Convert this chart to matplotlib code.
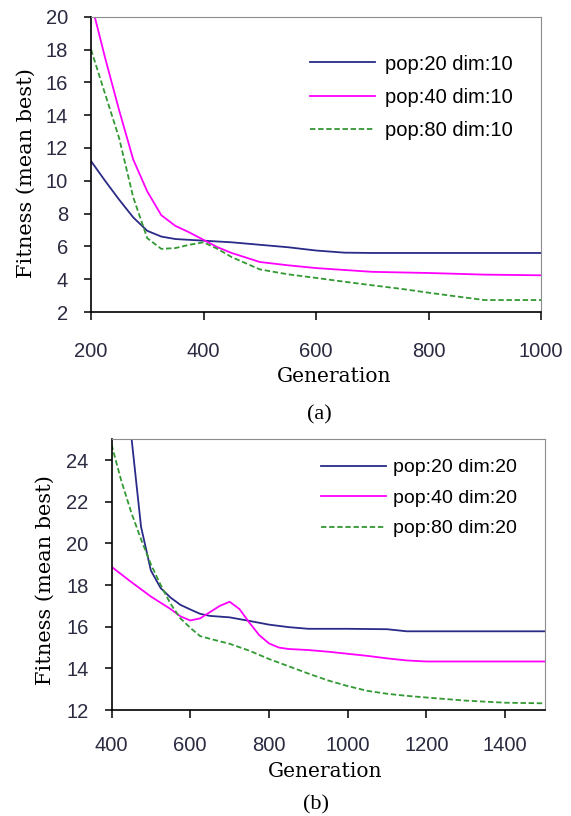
import matplotlib
matplotlib.use("Agg")
import matplotlib.pyplot as plt

# ----------------- Data -----------------
# (a) dim:10
gen_a_blue = [200, 225, 250, 275, 300, 325, 350, 375, 400, 450, 500, 550, 600, 650, 700, 800, 900, 1000]
fit_a_blue = [11.2, 10.0, 8.85, 7.77, 6.95, 6.6, 6.45, 6.4, 6.35, 6.25, 6.1, 5.95, 5.75, 5.62, 5.6, 5.6, 5.6, 5.6]

gen_a_mag = [200, 225, 250, 275, 300, 325, 350, 375, 400, 425, 450, 500, 550, 600, 700, 800, 900, 1000]
fit_a_mag = [20.9, 17.5, 14.3, 11.3, 9.35, 7.9, 7.25, 6.85, 6.4, 5.95, 5.6, 5.05, 4.85, 4.68, 4.45, 4.38, 4.28, 4.24]

gen_a_grn = [200, 225, 250, 275, 300, 325, 350, 375, 400, 425, 450, 500, 550, 600, 650, 700, 750, 800, 850, 900, 1000]
fit_a_grn = [18.0, 15.3, 12.6, 9.0, 6.5, 5.85, 5.9, 6.1, 6.25, 5.85, 5.35, 4.6, 4.3, 4.08, 3.85, 3.63, 3.42, 3.18, 2.95, 2.73, 2.73]

# (b) dim:20
gen_b_blue = [400, 425, 450, 475, 500, 525, 550, 575, 600, 625, 650, 700, 750, 800, 850, 900, 1000, 1100, 1150, 1500]
fit_b_blue = [36.0, 30.0, 25.2, 20.8, 18.7, 17.85, 17.4, 17.05, 16.83, 16.62, 16.52, 16.45, 16.28, 16.1, 15.98, 15.9, 15.9, 15.88, 15.78, 15.78]

gen_b_mag = [400, 450, 500, 550, 575, 600, 625, 650, 675, 700, 725, 750, 775, 800, 825, 850, 900, 950, 1000, 1050, 1100, 1150, 1200, 1500]
fit_b_mag = [18.88, 18.15, 17.45, 16.85, 16.5, 16.3, 16.4, 16.7, 17.0, 17.2, 16.85, 16.2, 15.6, 15.2, 15.0, 14.93, 14.88, 14.8, 14.7, 14.6, 14.48, 14.38, 14.33, 14.33]

gen_b_grn = [400, 425, 450, 475, 500, 525, 550, 575, 600, 625, 650, 700, 750, 800, 850, 900, 950, 1000, 1050, 1100, 1150, 1200, 1300, 1400, 1500]
fit_b_grn = [24.75, 23.0, 21.5, 20.2, 19.0, 18.0, 17.1, 16.4, 15.95, 15.55, 15.42, 15.18, 14.85, 14.45, 14.1, 13.75, 13.42, 13.15, 12.92, 12.78, 12.68, 12.6, 12.45, 12.35, 12.32]

labels_a = ["pop:20 dim:10", "pop:40 dim:10", "pop:80 dim:10"]
labels_b = ["pop:20 dim:20", "pop:40 dim:20", "pop:80 dim:20"]

BLUE = "#2a2a88"
MAGENTA = "#ff00ff"
GREEN = "#339933"
TICK_COLOR = "#2a2a40"
SANS = "Liberation Sans"
SERIF = "DejaVu Serif"


def style_axes(ax, tick_size, xpad, ypad):
    """Excel-like frame: black left/bottom, gray top/right, outward ticks."""
    for side in ("top", "right"):
        ax.spines[side].set_color("#8c8c8c")
    for side in ("left", "bottom"):
        ax.spines[side].set_color("black")
        ax.spines[side].set_linewidth(1.2)
    ax.tick_params(direction="out", length=5.4, width=1.1, labelcolor=TICK_COLOR)
    ax.tick_params(axis="x", pad=xpad, top=False)
    ax.tick_params(axis="y", pad=ypad, right=False)
    for lab in ax.get_xticklabels() + ax.get_yticklabels():
        lab.set_fontfamily(SANS)
        lab.set_fontsize(tick_size)


fig = plt.figure(figsize=(5.71, 8.16), dpi=100)

# ----------------- Panel (a) -----------------
ax1 = fig.add_axes([0.1594, 0.6176, 0.7881, 0.3619])
ax1.plot(gen_a_blue, fit_a_blue, color=BLUE, lw=1.3, label=labels_a[0])
ax1.plot(gen_a_mag, fit_a_mag, color=MAGENTA, lw=1.3, label=labels_a[1])
ax1.plot(gen_a_grn, fit_a_grn, color=GREEN, lw=1.3, ls=(0, (3, 1.5)), label=labels_a[2])
ax1.set_xlim(200, 1000)
ax1.set_ylim(2, 20)
ax1.set_xticks(range(200, 1001, 200))
ax1.set_yticks(range(2, 21, 2))
style_axes(ax1, 14.5, 16, 11)
ax1.set_xlabel("Generation", family=SERIF, fontsize=14.5, va="center")
ax1.xaxis.set_label_coords(0.54, -0.219)
ax1.set_ylabel("Fitness (mean best)", family=SERIF, fontsize=15, va="center")
ax1.yaxis.set_label_coords(-0.143, 0.471)
ax1.legend(loc="upper left", bbox_to_anchor=(0.4856, 0.872), frameon=False,
           prop={"family": SANS, "size": 14.5}, handlelength=3.26,
           handletextpad=0.5, labelspacing=0.7, borderpad=0, borderaxespad=0)

fig.text(0.5587, 1 - 415 / 816, "(a)", family="Liberation Serif", fontsize=16,
         ha="center", va="center")

# ----------------- Panel (b) -----------------
ax2 = fig.add_axes([0.1953, 0.1299, 0.7583, 0.3317])
ax2.plot(gen_b_blue, fit_b_blue, color=BLUE, lw=1.3, label=labels_b[0])
ax2.plot(gen_b_mag, fit_b_mag, color=MAGENTA, lw=1.3, label=labels_b[1])
ax2.plot(gen_b_grn, fit_b_grn, color=GREEN, lw=1.3, ls=(0, (3, 1.5)), label=labels_b[2])
ax2.set_xlim(400, 1500)
ax2.set_ylim(12, 25)
ax2.set_xticks(range(400, 1401, 200))
ax2.set_yticks(range(12, 25, 2))
style_axes(ax2, 14.5, 13, 11)
ax2.set_xlabel("Generation", family=SERIF, fontsize=14.5, va="center")
ax2.xaxis.set_label_coords(0.493, -0.228)
ax2.set_ylabel("Fitness (mean best)", family=SERIF, fontsize=15, va="center")
ax2.yaxis.set_label_coords(-0.152, 0.48)
ax2.legend(loc="upper left", bbox_to_anchor=(0.483, 0.928), frameon=False,
           prop={"family": SANS, "size": 14}, handlelength=3.37,
           handletextpad=0.34, labelspacing=0.66, borderpad=0, borderaxespad=0)

fig.text(0.5534, 1 - 805 / 816, "(b)", family="Liberation Serif", fontsize=16,
         ha="center", va="center")

fig.savefig("out.png", dpi=100)
